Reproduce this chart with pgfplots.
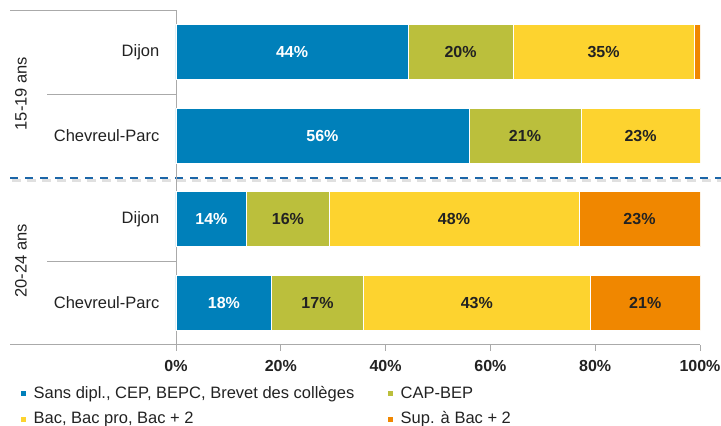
\documentclass[border=0pt]{standalone}
\usepackage{pgfplots}
\pgfplotsset{compat=1.18}
\usepackage{pgfplotstable}
\usepackage{fontspec}
\setmainfont{Liberation Sans}
\definecolor{cblue}{RGB}{0,128,186}
\definecolor{cgreen}{RGB}{187,191,60}
\definecolor{cyellow}{RGB}{253,211,47}
\definecolor{corange}{RGB}{240,135,0}
\definecolor{cline}{RGB}{170,170,170}
\definecolor{cdash}{RGB}{28,102,168}
\definecolor{ctext}{RGB}{34,34,34}

\pgfplotstableread{
pos v1 l1 v2 l2 v3 l3 v4 l4
3 44.3 44\% 20.0 20\% 34.6 35\% 1.1 \relax
2 55.9 56\% 21.4 21\% 22.7 23\% 0.0 \relax
1 13.5 14\% 15.7 16\% 47.7 48\% 23.1 23\%
0 18.3 18\% 17.4 17\% 43.4 43\% 20.9 21\%
}\datatable

\pgfplotsset{
  geom/.style={at={(176pt,-344.7pt)}, anchor=south west,
    scale only axis, width=524pt, height=334.5pt,
    xmin=0, xmax=100, ymin=-0.5, ymax=3.5},
  lbl/.style={only marks, mark=none, nodes near coords, point meta=explicit symbolic,
    nodes near coords style={anchor=center, text=#1, font=\fontsize{16}{19}\selectfont\bfseries}},
}

\begin{document}
\fontsize{16.5}{19.5}\selectfont
\begin{tikzpicture}
\useasboundingbox (0,0) rectangle (721pt,-426pt);
% group separators (decoration)
\draw[cline, line width=0.8pt] (10pt,-10.2pt) -- (176pt,-10.2pt);
\draw[cline, line width=0.8pt] (47pt,-94pt) -- (176pt,-94pt);
\draw[cline, line width=0.8pt] (47pt,-261pt) -- (176pt,-261pt);
\draw[cline, line width=0.8pt] (10pt,-344.7pt) -- (176pt,-344.7pt);
\draw[black!12, line width=3pt, dash pattern=on 9pt off 6pt] (12pt,-180pt) -- (721pt,-180pt);
\draw[cdash, line width=2pt, dash pattern=on 8.3pt off 6.7pt] (10pt,-177.5pt) -- (721pt,-177.5pt);
\node[rotate=90, text=ctext] at (21pt,-93.5pt) {15-19 ans};
\node[rotate=90, text=ctext] at (21pt,-261pt) {20-24 ans};
\begin{axis}[
  geom,
  xbar stacked, bar width=55pt,
  axis x line=bottom, axis y line=left,
  axis line style={-, draw=cline, line width=0.8pt},
  xtick={0,20,40,60,80,100},
  xticklabel={\pgfmathprintnumber{\tick}\%},
  /pgf/number format/assume math mode=true,
  x tick label style={font=\fontsize{16}{19}\selectfont\bfseries, text=ctext, yshift=-4pt},
  tick align=outside, major tick length=6pt,
  x tick style={draw=cline, line width=0.8pt},
  ytick={0,1,2,3},
  yticklabels={Chevreul-Parc,Dijon,Chevreul-Parc,Dijon},
  y tick style={draw=none},
  y tick label style={text=ctext, xshift=-5pt},
  legend columns=2,
  legend cell align=left,
  legend style={at={(axis description cs:-0.2977,-0.1175)}, anchor=north west,
    draw=none, fill=none, inner sep=0pt, row sep=7pt, text=ctext,
    /tikz/every odd column/.append style={column sep=5pt},
    /tikz/every even column/.append style={column sep=31pt}},
  legend image code/.code={\fill[#1] (0pt,-2.8pt) rectangle (5.6pt,2.8pt);},
]
\addplot[fill=cblue, draw=white, line width=0.8pt] table[x=v1, y=pos] {\datatable};
\addlegendentry{{Sans dipl., CEP, BEPC, Brevet des collèges}}
\addplot[fill=cgreen, draw=white, line width=0.8pt] table[x=v2, y=pos] {\datatable};
\addlegendentry{CAP-BEP}
\addplot[fill=cyellow, draw=white, line width=0.8pt] table[x=v3, y=pos] {\datatable};
\addlegendentry{Bac, Bac pro, Bac + 2}
\addplot[fill=corange, draw=white, line width=0.8pt] table[x=v4, y=pos] {\datatable};
\addlegendentry{Sup. à Bac + 2}
\end{axis}
\begin{axis}[geom, hide axis, clip=false]
\addplot[lbl=white] table[x expr={\thisrow{v1}/2}, y=pos, meta=l1] {\datatable};
\addplot[lbl=ctext] table[x expr={\thisrow{v1}+\thisrow{v2}/2}, y=pos, meta=l2] {\datatable};
\addplot[lbl=ctext] table[x expr={\thisrow{v1}+\thisrow{v2}+\thisrow{v3}/2}, y=pos, meta=l3] {\datatable};
\addplot[lbl=ctext] table[x expr={\thisrow{v1}+\thisrow{v2}+\thisrow{v3}+\thisrow{v4}/2}, y=pos, meta=l4] {\datatable};
\end{axis}
\end{tikzpicture}
\end{document}
